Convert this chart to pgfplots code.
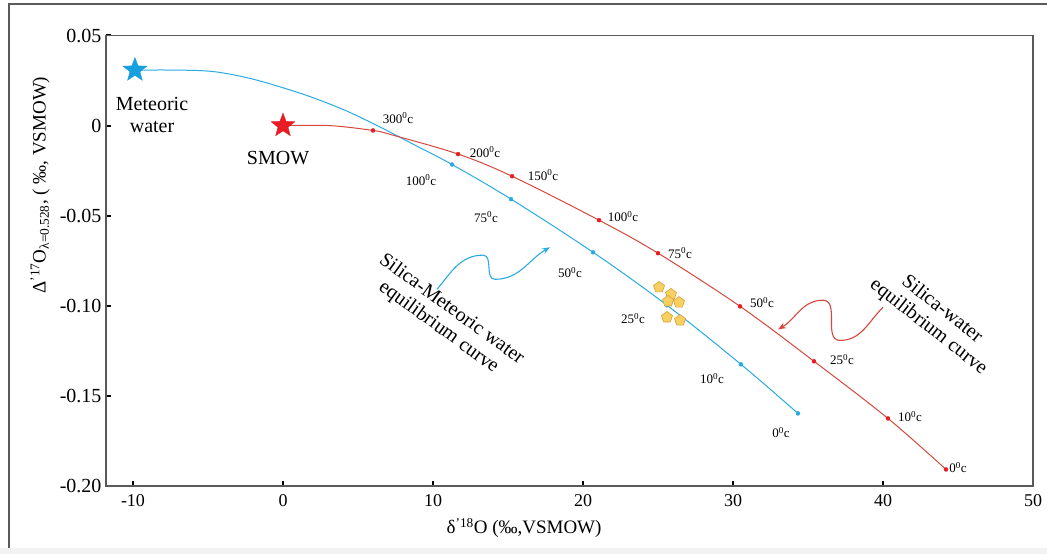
\documentclass[border=0pt]{standalone}
\usepackage{pgfplots}
\pgfplotsset{compat=1.18}
\usepackage{fontspec}
\setmainfont{Liberation Serif}
\usetikzlibrary{arrows.meta,plotmarks}

\definecolor{curveblue}{RGB}{41,171,226}
\definecolor{curvered}{RGB}{214,72,60}
\definecolor{starblue}{RGB}{22,160,224}
\definecolor{starred}{RGB}{232,28,36}
\definecolor{pentfill}{RGB}{247,208,96}
\definecolor{pentdraw}{RGB}{214,160,60}
\definecolor{framegray}{RGB}{90,90,90}

% filled five-pointed star mark
\pgfdeclareplotmark{fstar}{%
  \pgfpathmoveto{\pgfqpointpolar{90}{\pgfplotmarksize}}%
  \pgfpathlineto{\pgfqpointpolar{126}{0.42\pgfplotmarksize}}%
  \pgfpathlineto{\pgfqpointpolar{162}{\pgfplotmarksize}}%
  \pgfpathlineto{\pgfqpointpolar{198}{0.42\pgfplotmarksize}}%
  \pgfpathlineto{\pgfqpointpolar{234}{\pgfplotmarksize}}%
  \pgfpathlineto{\pgfqpointpolar{270}{0.42\pgfplotmarksize}}%
  \pgfpathlineto{\pgfqpointpolar{306}{\pgfplotmarksize}}%
  \pgfpathlineto{\pgfqpointpolar{342}{0.42\pgfplotmarksize}}%
  \pgfpathlineto{\pgfqpointpolar{18}{\pgfplotmarksize}}%
  \pgfpathlineto{\pgfqpointpolar{54}{0.42\pgfplotmarksize}}%
  \pgfpathclose
  \pgfusepathqfillstroke}

\newcommand\tlab{\fontsize{13}{13}\selectfont}
\newcommand\blab{\fontsize{20}{22}\selectfont}
\newcommand\tdeg[1]{#1\textsuperscript{0}c}

\begin{document}
\begin{tikzpicture}[x=1pt,y=1pt]
\path[use as bounding box] (0,0) rectangle (1047,554);
\fill[gray!10] (0,0) rectangle (1047,6);
\draw[framegray, line width=1.2pt] (9,6) -- (9,550) -- (1047,550);

\begin{axis}[
  at={(106pt,68pt)}, anchor=south west,
  scale only axis, width=927pt, height=450.5pt,
  xmin=-11.8, xmax=50, ymin=-0.2, ymax=0.05,
  clip=false,
  axis line style={draw=framegray, line width=1.1pt},
  xtick={-10,0,10,20,30,40,50},
  ytick={-0.2,-0.15,-0.1,-0.05,0,0.05},
  yticklabels={-0.20,-0.15,-0.10,-0.05,0,0.05},
  xticklabels={-10,0,10,20,30,40,50},
  xtick pos=bottom, ytick pos=left,
  tick align=inside, major tick length=5pt,
  tick style={black, line width=2pt},
  /pgf/number format/assume math mode=true,
  xticklabel style={font=\fontsize{18}{18}\selectfont, yshift=-5pt},
  yticklabel style={font=\fontsize{20}{20}\selectfont, xshift=-1pt},
  xlabel={δ\textsuperscript{'18}O (‰,VSMOW)},
  xlabel style={font=\fontsize{19}{19}\selectfont, at={(axis description cs:0.451,-0.093)}, anchor=center},
  ylabel={Δ\textsuperscript{'17}O\textsubscript{λ=0.528}, ( ‰, VSMOW)},
  ylabel style={font=\fontsize{19}{19}\selectfont, at={(axis description cs:-0.0712,0.668)}, anchor=center},
]

% silica-meteoric water equilibrium curve
\addplot[curveblue, line width=1pt, smooth, tension=0.55, no marks] coordinates {
  (-9.87,0.0308) (-7,0.0308) (-4.67,0.0300) (-2.4,0.0266) (-0.2,0.0215)
  (2.0,0.0155) (4.27,0.0080) (6.47,-0.0008) (8.67,-0.0103)
  (11.27,-0.0216) (15.2,-0.0408) (20.67,-0.0703) (25.6,-0.0997)
  (30.53,-0.1325) (34.33,-0.1597)
};
% silica-water equilibrium curve
\addplot[curvered, line width=1pt, smooth, tension=0.55, no marks] coordinates {
  (0,0) (3.1,0) (6.0,-0.0027) (7.33,-0.0053) (11.67,-0.0158) (15.27,-0.0281)
  (21.07,-0.0525) (25.0,-0.0708) (30.47,-0.1003) (35.4,-0.1308)
  (40.33,-0.1625) (44.2,-0.1908)
};
% temperature marks
\addplot[only marks, mark=*, mark size=2pt, curveblue, mark options={fill=curveblue}] coordinates {
  (11.27,-0.0216) (15.2,-0.0408) (20.67,-0.0703) (25.6,-0.0997)
  (30.53,-0.1325) (34.33,-0.1597)
};
\addplot[only marks, mark=*, mark size=2pt, starred, mark options={fill=starred}] coordinates {
  (6.0,-0.0027) (11.67,-0.0158) (15.27,-0.0281) (21.07,-0.0525)
  (25.0,-0.0708) (30.47,-0.1003) (35.4,-0.1308) (40.33,-0.1625) (44.2,-0.1908)
};
% samples
\addplot[only marks, mark=pentagon*, mark size=5.8pt, mark options={fill=pentfill, draw=pentdraw, line width=0.6pt}] coordinates {
  (25.07,-0.0897) (25.87,-0.0936) (26.4,-0.0981) (25.67,-0.0975)
  (25.6,-0.1064) (26.47,-0.1081)
};
% end members
\addplot[only marks, mark=fstar, mark size=12.5pt, mark options={fill=starblue, draw=starblue}] coordinates {(-9.87,0.0308)};
\addplot[only marks, mark=fstar, mark size=12.5pt, mark options={fill=starred, draw=starred}] coordinates {(0,0)};

% end-member names
\node[font=\blab, align=center] at (axis cs:-8.73,0.0058) {Meteoric\\water};
\node[font=\blab] at (axis cs:-0.33,-0.018) {SMOW};

% temperatures along the silica-water curve
\node[font=\tlab] at (axis cs:7.67,0.0042) {\tdeg{300}};
\node[font=\tlab] at (axis cs:13.47,-0.0147) {\tdeg{200}};
\node[font=\tlab] at (axis cs:17.33,-0.0275) {\tdeg{150}};
\node[font=\tlab] at (axis cs:22.67,-0.0503) {\tdeg{100}};
\node[font=\tlab] at (axis cs:26.47,-0.0708) {\tdeg{75}};
\node[font=\tlab] at (axis cs:31.93,-0.0981) {\tdeg{50}};
\node[font=\tlab] at (axis cs:37.27,-0.1297) {\tdeg{25}};
\node[font=\tlab] at (axis cs:41.8,-0.1614) {\tdeg{10}};
\node[font=\tlab] at (axis cs:45.0,-0.1897) {\tdeg{0}};
% temperatures along the silica-meteoric water curve
\node[font=\tlab] at (axis cs:9.2,-0.0303) {\tdeg{100}};
\node[font=\tlab] at (axis cs:13.53,-0.0508) {\tdeg{75}};
\node[font=\tlab] at (axis cs:19.13,-0.0814) {\tdeg{50}};
\node[font=\tlab] at (axis cs:23.33,-0.1069) {\tdeg{25}};
\node[font=\tlab] at (axis cs:28.6,-0.1403) {\tdeg{10}};
\node[font=\tlab] at (axis cs:33.2,-0.1703) {\tdeg{0}};

% curve names with pointer arrows
\node[font=\blab, align=center, rotate=-36] at (axis cs:10.8,-0.107) {Silica-Meteoric water\\equilibrium curve};
\node[font=\blab, align=center, rotate=-38] at (axis cs:43.47,-0.107) {Silica-water\\equilibrium curve};
\draw[curveblue, line width=1.1pt, -{Stealth[length=8pt,width=6pt]}]
  (axis cs:10.27,-0.0908) to[out=50,in=180] (axis cs:13.33,-0.0719)
  to[out=0,in=180] (axis cs:14.13,-0.0853) to[out=0,in=-150] (axis cs:17.8,-0.0675);
\draw[curvered, line width=1.1pt, -{Stealth[length=8pt,width=6pt]}]
  (axis cs:40,-0.1008) to[out=225,in=0] (axis cs:37.13,-0.1192)
  to[out=180,in=0] (axis cs:36,-0.0969) to[out=180,in=30] (axis cs:33,-0.1131);
\end{axis}
\end{tikzpicture}
\end{document}
